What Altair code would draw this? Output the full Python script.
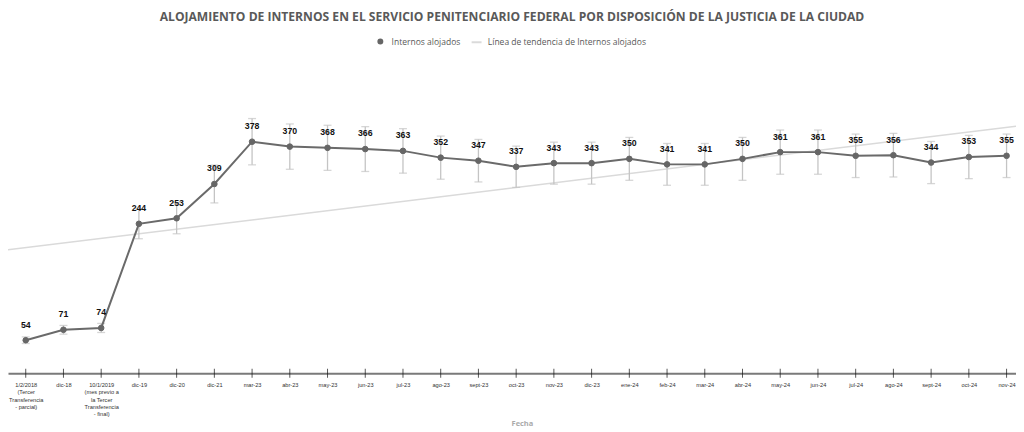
import json
import altair as alt
import pandas as pd

# ---- data ----
etiquetas = [
    ["1/2/2018", "(Tercer", "Transferencia", "- parcial)"],
    ["dic-18"],
    ["10/1/2019", "(mes previo a", "la Tercer", "Transferencia", "- final)"],
    ["dic-19"], ["dic-20"], ["dic-21"], ["mar-23"], ["abr-23"], ["may-23"],
    ["jun-23"], ["jul-23"], ["ago-23"], ["sept-23"], ["oct-23"], ["nov-23"],
    ["dic-23"], ["ene-24"], ["feb-24"], ["mar-24"], ["abr-24"], ["may-24"],
    ["jun-24"], ["jul-24"], ["ago-24"], ["sept-24"], ["oct-24"], ["nov-24"],
]
internos = [54, 71, 74, 244, 253, 309, 378, 370, 368, 366, 363, 352, 347, 337,
            343, 343, 350, 341, 341, 350, 361, 361, 355, 356, 344, 353, 355]
tendencia_idx = [0, 26]
tendencia_val = [205, 401.5]

SERIE = "Internos alojados"
TREND = "Línea de tendencia de Internos alojados"

df = pd.DataFrame({"idx": list(range(len(internos))), "valor": internos, "serie": SERIE})
df_trend = pd.DataFrame({"idx": tendencia_idx, "valor": tendencia_val})

label_expr = json.dumps(etiquetas) + "[datum.value]"

xscale = alt.Scale(domain=[-0.47, 26.25], nice=False, zero=False)
yscale = alt.Scale(domain=[0, 400], nice=False, zero=True)

x_axis = alt.Axis(
    values=list(range(len(internos))), labelExpr=label_expr, labelAngle=0,
    labelOverlap=False, labelFlush=False, labelBound=False, ticks=False, grid=False,
    labelFont="Liberation Sans", labelFontSize=5.7, labelLineHeight=7.3, labelColor="#333333",
    labelPadding=8.5, domainColor="#7a7a7a", domainWidth=2,
    title="Fecha", titleFont="Open Sans", titleFontSize=7.5, titleColor="#aaaaaa",
    titleX=518, titleY=47, titleBaseline="top", titleAnchor="start", titleAlign="center",
)

X = alt.X("idx:Q", scale=xscale, axis=x_axis)
Y = alt.Y("valor:Q", scale=yscale, axis=None)

trend = alt.Chart(df_trend).transform_regression(
    "idx", "valor", method="linear", extent=[-0.7, 26.7]
).mark_line(color="#dadada", strokeWidth=1.5).encode(x=X, y=Y)

base = alt.Chart(df).transform_calculate(
    lo="datum.valor * 0.9", hi="datum.valor * 1.1"
)

err = base.mark_rule(color="#c4c4c4", strokeWidth=1.3).encode(
    x=X, y=alt.Y("lo:Q", scale=yscale, axis=None), y2="hi:Q"
)
cap_lo = base.mark_tick(orient="horizontal", color="#c4c4c4", size=8, thickness=1.3).encode(
    x=X, y=alt.Y("lo:Q", scale=yscale, axis=None)
)
cap_hi = base.mark_tick(orient="horizontal", color="#c4c4c4", size=8, thickness=1.3).encode(
    x=X, y=alt.Y("hi:Q", scale=yscale, axis=None)
)

axis_ticks = alt.Chart(df).mark_tick(orient="vertical", color="#111111", size=9, thickness=1).encode(
    x=X, y=alt.YDatum(0, scale=yscale, axis=None)
)

line = alt.Chart(df).mark_line(color="#6a6a6a", strokeWidth=2).encode(x=X, y=Y)

legend = alt.Legend(
    orient="none", legendX=371, legendY=-92, direction="horizontal", title=None,
    labelFont="Open Sans", labelFontSize=8.6, labelColor="#595959",
    symbolSize=16, symbolStrokeWidth=2, columnPadding=6, labelOffset=7,
)
dom = [SERIE, TREND]
points = alt.Chart(df).mark_point(size=32, strokeWidth=1, opacity=1).encode(
    x=X, y=Y,
    fill=alt.Fill("serie:N", scale=alt.Scale(domain=dom, range=["#666666", "transparent"]), legend=legend),
    stroke=alt.Stroke("serie:N", scale=alt.Scale(domain=dom, range=["#666666", "#dadada"]), legend=legend),
    shape=alt.Shape("serie:N", scale=alt.Scale(domain=dom, range=["circle", "M-2.5,0H2.5"]), legend=legend),
)

labels = alt.Chart(df).mark_text(
    font="Liberation Sans", fontSize=8.8, fontWeight="bold", color="#111111",
    dy=-15.7, baseline="middle", align="center",
).encode(x=X, y=Y, text="valor:Q")

chart = alt.layer(trend, err, cap_lo, cap_hi, axis_ticks, line, points, labels).properties(
    width=1016, height=247,
    autosize=alt.AutoSizeParams(type="none"),
    padding={"left": 0, "top": 119.5, "right": 0, "bottom": 57.5},
    title=alt.Title(
        "ALOJAMIENTO DE INTERNOS EN EL SERVICIO PENITENCIARIO FEDERAL POR DISPOSICIÓN DE LA JUSTICIA DE LA CIUDAD",
        anchor="middle", font="Open Sans", fontSize=12.2, fontWeight="bold", color="#595959", dy=-10,
    ),
).configure_view(stroke=None).configure_axis(labelOverlap=False)

chart.save("out.html", embed_options={"renderer": "svg", "actions": False})
